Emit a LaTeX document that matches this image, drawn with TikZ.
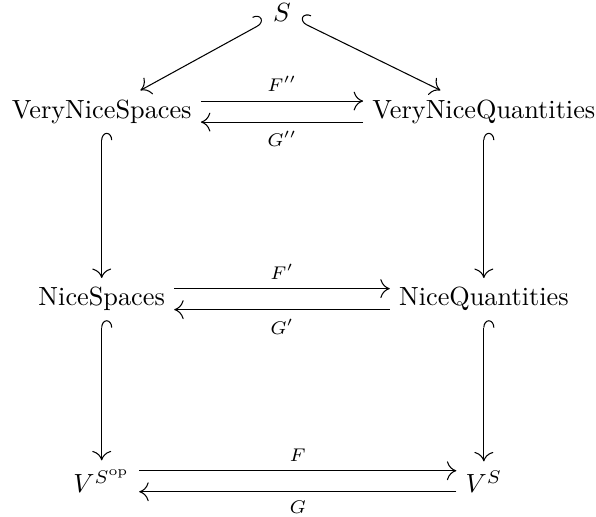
\documentclass[tikz,border=0pt]{standalone}
\usepackage{amsmath}
\usepackage{tikz}
\usetikzlibrary{arrows.meta, calc}

\begin{document}
\begin{tikzpicture}[
    obj/.style={anchor=base},
    arrow/.style={-{Computer Modern Rightarrow[length=3.6pt, width=7.2pt]}},
    hookr/.style={{Hooks[right, length=2.8pt, width=8pt]}-{Computer Modern Rightarrow[length=3.6pt, width=7.2pt]}},
    hookl/.style={{Hooks[left, length=2.8pt, width=8pt]}-{Computer Modern Rightarrow[length=3.6pt, width=7.2pt]}},
    lbl/.style={font=\scriptsize}
]
\useasboundingbox (0,0) rectangle (7.97,6.91);

\node[obj] (s) at (3.77,6.62) {$S$};
\node[obj] (vns) at (1.36,5.33) {VeryNiceSpaces};
\node[obj] (vnq) at (6.47,5.33) {VeryNiceQuantities};
\node[obj] (ns) at (1.36,2.82) {NiceSpaces};
\node[obj] (nq) at (6.47,2.82) {NiceQuantities};
\node[obj] (vsop) at (1.36,0.32) {$V^{S^{\mathrm{op}}}$};
\node[obj] (vs) at (6.47,0.32) {$V^S$};

% inclusions
\draw[hookl] (s) -- (vns);
\draw[hookr] (s) -- (vnq);
\draw[hookr] (vns) -- (ns);
\draw[hookr] (vnq) -- (nq);
\draw[hookr] (ns) -- (vsop);
\draw[hookr] (nq) -- (vs);

% adjunctions
\draw[arrow] ($(vns.east)+(0,4pt)$) -- ($(vns.east -| vnq.west)+(0,4pt)$) node[lbl, midway, above] (f2) {$F''$};
\draw[arrow] ($(vns.east -| vnq.west)+(0,-4pt)$) -- ($(vns.east)+(0,-4pt)$) node[lbl, midway, below] (g2) {$G''$};
\draw[arrow] ($(ns.east)+(0,4pt)$) -- ($(ns.east -| nq.west)+(0,4pt)$) node[lbl, midway, above] (f1) {$F'$};
\draw[arrow] ($(ns.east -| nq.west)+(0,-4pt)$) -- ($(ns.east)+(0,-4pt)$) node[lbl, midway, below] (g1) {$G'$};
\draw[arrow] ($(vsop.east)+(0,4pt)$) -- ($(vsop.east -| vs.west)+(0,4pt)$) node[lbl, midway, above] (f0) {$F$};
\draw[arrow] ($(vsop.east -| vs.west)+(0,-4pt)$) -- ($(vsop.east)+(0,-4pt)$) node[lbl, midway, below] (g0) {$G$};
\end{tikzpicture}
\end{document}
